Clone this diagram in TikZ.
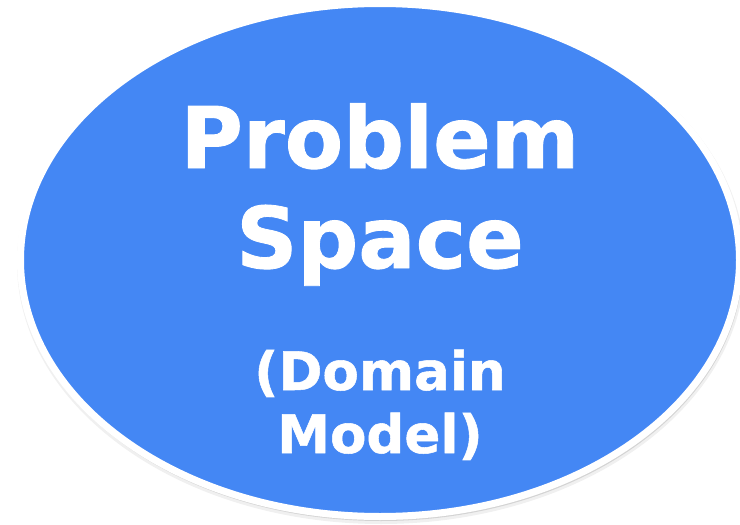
\documentclass[tikz,border=0pt]{standalone}
\usepackage{fontspec}
\setmainfont[BoldFeatures={FakeBold=1}]{DejaVu Sans}
\usepackage{xcolor}
\usepackage{tikz}
\definecolor{problemblue}{HTML}{4487F4}

\begin{document}
\begin{tikzpicture}[x=1pt,y=-1pt,
    bigtext/.style={text=white,font=\bfseries\fontsize{85}{100}\selectfont,anchor=base,inner sep=0pt},
    smalltext/.style={text=white,font=\bfseries\fontsize{53}{60}\selectfont,anchor=base,inner sep=0pt}]
    \useasboundingbox (0,0) rectangle (740,525);
    \fill[black,opacity=0.06] (381,263) ellipse [x radius=364pt,y radius=261pt];
    \fill[black,opacity=0.12] (381,262) ellipse [x radius=362pt,y radius=259pt];
    \draw[white,line width=7pt,fill=problemblue] (380,260) ellipse [x radius=359.5pt,y radius=256.5pt];
    \node[bigtext] (problem) at (380,168) {Problem};
    \node[bigtext] (space) at (380,268) {Space};
    \node[smalltext] (domain) at (380,390) {(Domain};
    \node[smalltext] (model) at (380,453) {Model)};
\end{tikzpicture}
\end{document}
